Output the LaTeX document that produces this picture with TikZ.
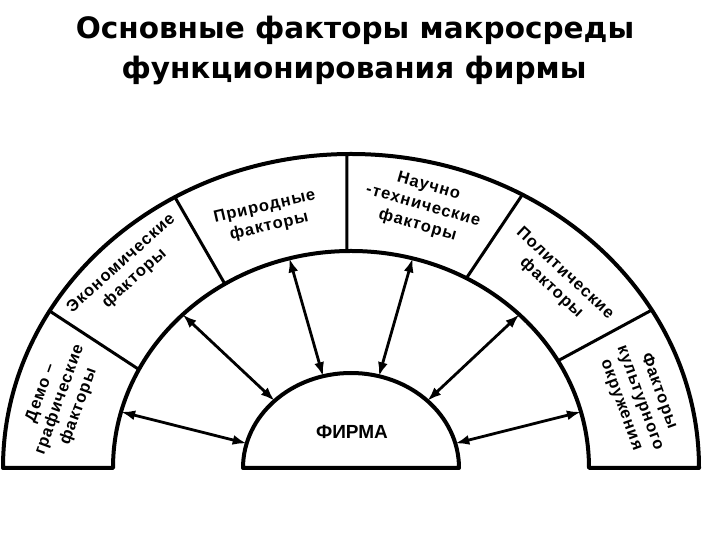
\documentclass[tikz,border=0pt]{standalone}
\usepackage{fontspec}
\setmainfont{Liberation Sans}
\newfontfamily\titlefont{DejaVu Sans}
\newfontfamily\labfont[LetterSpace=6]{Liberation Sans}
\usetikzlibrary{arrows.meta,calc}
\begin{document}
\begin{tikzpicture}[x=1pt,y=1pt,
  outline/.style={line width=4pt, line join=round},
  divider/.style={line width=3pt},
  dbl/.style={line width=2.8pt, {Latex[length=14pt,width=10pt]}-{Latex[length=14pt,width=10pt]}},
  lab/.style={font=\labfont\bfseries\fontsize{16.5}{20}\selectfont, align=center, inner sep=0pt},
  ttl/.style={font=\titlefont\bfseries\fontsize{29.5}{30}\selectfont, inner sep=0pt},
]
\useasboundingbox (0,0) rectangle (720,540);
\coordinate (C) at (351,72);
% title
\node[ttl] (t1) at (355,510) {Основные факторы макросреды};
\node[ttl] (t2) at (354,470) {функционирования фирмы};
% outer band
\coordinate (oL) at ([shift={(180:348pt and 314pt)}]C);
\coordinate (mR) at ([shift={(0:238pt and 217pt)}]C);
\draw[outline] (oL) arc[start angle=180,end angle=0,x radius=348pt,y radius=314pt]
  -- (mR) arc[start angle=0,end angle=180,x radius=238pt,y radius=217pt] -- cycle;
% firm
\coordinate (fL) at ([shift={(180:108pt and 95pt)}]C);
\draw[outline] (fL) arc[start angle=180,end angle=0,x radius=108pt,y radius=95pt] -- cycle;
% dividers
\foreach \n/\a/\b in {1/150/153,2/120.4/122,3/90.7/91,4/60.5/61,5/30.2/29.6}{
  \coordinate (do\n) at ([shift={(\a:348pt and 314pt)}]C);
  \coordinate (di\n) at ([shift={(\b:238pt and 217pt)}]C);
  \draw[divider] (do\n) -- (di\n);
}
% arrows
\foreach \a in {15,45,75,105,135,165}{
  \coordinate (m\a) at ([shift={(\a:238pt and 217pt)}]C);
  \coordinate (f\a) at ([shift={(\a:108pt and 95pt)}]C);
  \draw[dbl] (m\a) -- (f\a);
}
% labels
\node[lab, rotate=70] (demo) at (60,140) {Демо –\\графические\\факторы};
\node[lab, rotate=42] (econ) at (128,269) {Экономические\\факторы};
\node[lab, rotate=13] (prir) at (267,323) {Природные\\факторы};
\node[lab, rotate=-16] (nauch) at (423,334) {Научно\\-технические\\факторы};
\node[lab, rotate=-43] (polit) at (558,259) {Политические\\факторы};
\node[lab, rotate=-70] (cult) at (640,142) {Факторы\\культурного\\окружения};
\node[font=\bfseries\fontsize{19}{19}\selectfont] (firm) at (352,108) {ФИРМА};
\end{tikzpicture}
\end{document}
